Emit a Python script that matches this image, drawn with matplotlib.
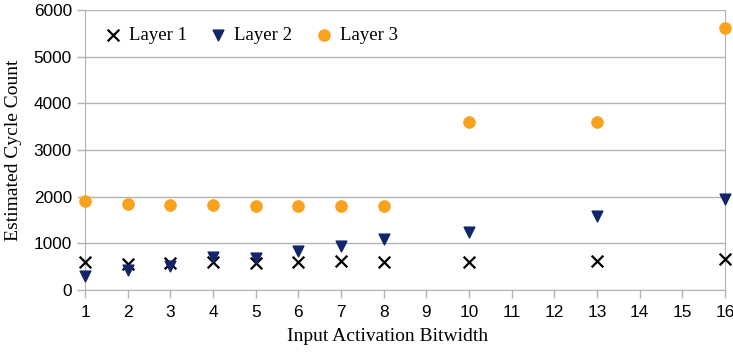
import matplotlib
matplotlib.use('Agg')
import matplotlib.pyplot as plt

bitwidth = [1, 2, 3, 4, 5, 6, 7, 8, 10, 13, 16]
layer1 = [607, 564, 571, 600, 585, 607, 628, 600, 600, 628, 657]
layer2 = [300, 430, 520, 714, 692, 835, 950, 1093, 1236, 1592, 1956]
layer3 = [1907, 1843, 1820, 1820, 1810, 1805, 1800, 1800, 3600, 3600, 5614]

xticks = list(range(1, 17))
yticks = [0, 1000, 2000, 3000, 4000, 5000, 6000]

grey = '#b3b3b3'

fig = plt.figure(figsize=(7.33, 3.52), dpi=100)
ax = fig.add_axes([0.116, 0.176, 0.873, 0.796])

ax.scatter(bitwidth, layer1, marker='x', s=70, color='black', linewidths=1.6,
           label='Layer 1', clip_on=False, zorder=3)
ax.scatter(bitwidth, layer2, marker='v', s=60, color='#12256b',
           label='Layer 2', clip_on=False, zorder=3)
ax.scatter(bitwidth, layer3, marker='o', s=65, color='#f9a21e',
           label='Layer 3', clip_on=False, zorder=3)

ax.set_xlim(1, 16)
ax.set_ylim(0, 6000)
ax.set_xticks(xticks)
ax.set_yticks(yticks)
ax.yaxis.grid(True, color=grey, linewidth=1)
ax.set_axisbelow(True)

for side in ['left', 'bottom', 'right']:
    ax.spines[side].set_color(grey)
ax.spines['top'].set_visible(False)

ax.tick_params(axis='both', colors=grey, labelcolor='black', labelsize=12.4,
               length=6, width=1)
ax.tick_params(axis='x', pad=5)
for lab in ax.get_xticklabels() + ax.get_yticklabels():
    lab.set_fontname('Liberation Sans')

ax.set_xlabel('Input Activation Bitwidth', fontname='Liberation Serif', fontsize=14,
              labelpad=6)
ax.xaxis.set_label_coords(0.472, -0.135)
ax.set_ylabel('Estimated Cycle Count', fontname='Liberation Serif', fontsize=14,
              labelpad=8)

leg = ax.legend(loc='upper left', bbox_to_anchor=(0.0, 1.0), ncol=3, frameon=False,
                prop={'family': 'Liberation Serif', 'size': 13.5},
                handlelength=1.2, handletextpad=0.25, columnspacing=1.07,
                borderaxespad=0.5)

fig.savefig('out.png', dpi=100)
